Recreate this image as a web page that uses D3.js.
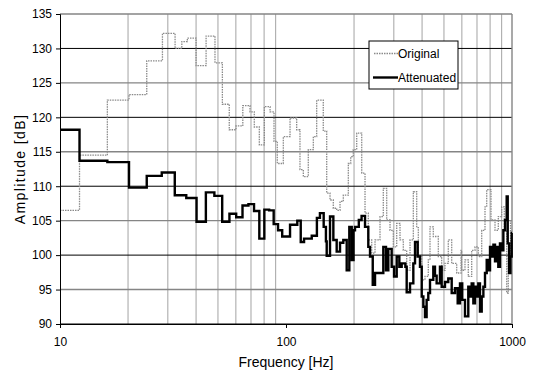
<!DOCTYPE html>
<html>
<head>
<meta charset="utf-8">
<script src="https://cdn.jsdelivr.net/npm/d3@7"></script>
<style>
  body { margin: 0; background: #fff; }
  svg { display: block; font-family: "Liberation Sans", Arial, sans-serif; }
</style>
</head>
<body>
<svg id="chart" width="533" height="372"></svg>
<script>
///////////////////////////////////////////
// Data (start frequency of each step, level in dB)
///////////////////////////////////////////
var origFreq = [10, 12.2, 16.2, 20.2, 24.2, 28.4, 32.3, 34.6, 36.6, 40.0, 44.3, 48.5, 52.3, 56.1, 60.1,
  64.4, 69.3, 72.4, 76.2, 80.2, 85.0, 88.5, 91.5, 97.3, 104.2, 111.5, 115.3, 119.3, 125.5, 132.1,
  136.7, 146.2, 151.4, 156.6, 161.9, 167.6, 173.4, 179.3, 188.7, 193.4, 198.5, 205.5, 216.3, 223.7,
  231.3, 239.5, 247.7, 260.6, 269.5, 279.0, 288.6, 298.4, 308.9, 319.5, 330.4, 342.0, 353.8, 365.9,
  378.7, 385.0, 398.6, 412.1, 426.2, 433.7, 448.5, 472.0, 488.5, 505.2, 522.5, 541.0, 569.3, 595.0,
  598.9, 619.4, 640.6, 663.2, 685.9, 709.4, 734.4, 759.5, 772.9, 807.5, 841.1, 869.8, 900.3, 924.5,
  947.3, 963.0, 985.0];
var origLevel = [106.5, 114.5, 122.5, 123.3, 128.2, 132.2, 130.0, 131.0, 131.5, 127.5, 131.8, 127.9, 121.9, 118.2, 118.75,
  121.7, 120.8, 118.6, 116.0, 121.55, 120.8, 116.5, 113.3, 117.2, 119.9, 118.2, 112.4, 111.4, 115.3, 117.2,
  122.5, 118.0, 109.0, 108.0, 106.8, 106.5, 107.8, 108.7, 113.3, 114.3, 115.3, 117.7, 111.9, 106.1,
  102.2, 100.3, 102.2, 105.6, 109.7, 105.1, 103.6, 101.2, 104.6, 102.2, 100.7, 97.8, 102.2, 109.2,
  104.0, 99.8, 96.4, 96.9, 99.3, 104.1, 102.7, 99.8, 97.8, 98.8, 102.2, 98.8, 97.4, 100.7,
  97.8, 99.3, 96.9, 100.7, 101.2, 99.8, 103.6, 107.0, 109.5, 105.1, 103.6, 105.6, 107.0, 103.6,
  94.5, 99.8, 105.0];

var attFreq = [10, 12.2, 16.2, 20.2, 24.2, 28.2, 32.2, 36.2, 40.2, 44.2, 48.2, 52.2, 56.2, 60.2,
  64.2, 68.2, 72.2, 76.2, 80.2, 84.2, 88.2, 92.2, 96.2, 104.2, 112.2, 116.2, 120.2, 130, 137, 141.3,
  146.8, 150.2, 151.4, 156.6, 162, 167.6, 173.4, 179.3, 185.6, 190.6, 195.4, 199, 202, 210, 216, 223.7,
  231.3, 235.4, 242, 247.7, 269.5, 277, 283.6, 293.5, 300.6, 308.9, 317.3, 325, 337.4, 342, 353.8,
  365.9, 372.3, 382.6, 391.6, 398.6, 405.3, 412.1, 419, 426.2, 433.7, 448.5, 456.2, 464, 480, 488.5,
  505.2, 522.5, 541, 559.6, 575, 588.6, 602.3, 619.4, 640.6, 651.7, 663.2, 674.5, 685.9, 697.8,
  709.4, 721.6, 734.4, 747, 759.5, 772.9, 785.8, 799.4, 813.6, 827.6, 841.1, 855.8, 869.8, 884.5,
  900.3, 915.7, 931.6, 947.3, 957.4, 970.8, 984.3, 997];
var attLevel = [118.2, 113.7, 113.5, 109.8, 111.5, 112.0, 108.7, 108.3, 104.85, 109.1, 108.6, 104.85, 106.0, 105.5,
  107.2, 107.4, 106.4, 102.4, 106.6, 106.5, 104.5, 103.6, 102.7, 104.4, 105.0, 101.9, 102.4, 102.8, 105.4, 106.1,
  104.1, 102.0, 99.9, 105.6, 102.2, 100.5, 101.8, 102.2, 97.8, 104.1, 99.3, 103.6, 104.1, 105.1, 105.7, 104.1,
  101.2, 99.8, 95.7, 97.4, 101.2, 97.8, 100.9, 98.3, 96.9, 99.8, 98.3, 98.8, 98.3, 94.6, 95.9,
  98.8, 101.9, 99.8, 98.3, 94.0, 92.5, 91.0, 93.5, 94.5, 96.4, 98.3, 97.0, 95.9, 98.3, 95.4,
  96.1, 96.6, 94.5, 95.2, 93.0, 95.9, 93.5, 91.1, 95.4, 94.0, 95.9, 93.0, 95.4, 94.0,
  95.9, 91.8, 94.0, 95.4, 97.4, 99.3, 97.8, 101.2, 99.8, 101.5, 99.1, 101.2, 98.3, 101.7,
  100.7, 103.6, 105.1, 108.5, 101.7, 97.4, 99.8, 103.2];

var yTicks = [90, 95, 100, 105, 110, 115, 120, 125, 130, 135];
var xTicks = [10, 100, 1000];
var minorFreqs = [20, 30, 40, 50, 60, 70, 80, 90, 200, 300, 400, 500, 600, 700, 800, 900];

///////////////////////////////////////////
// Chart
///////////////////////////////////////////
var svg = d3.select("#chart");
var mLeft = 60, mRight = 512, mTop = 14, mBottom = 324;

var x = d3.scaleLog().domain([10, 1000]).range([mLeft, mRight]);
var y = d3.scaleLinear().domain([90, 135]).range([mBottom, mTop]);

// vertical minor grid
svg.append("g").selectAll("line")
  .data(minorFreqs)
  .enter().append("line")
  .attr("x1", function(d) { return x(d); })
  .attr("x2", function(d) { return x(d); })
  .attr("y1", mTop).attr("y2", mBottom)
  .attr("stroke", "#a3a3a3").attr("stroke-width", 1);

// horizontal grid: black every 10, grey in between
svg.append("g").selectAll("line")
  .data(yTicks)
  .enter().append("line")
  .attr("x1", mLeft).attr("x2", mRight)
  .attr("y1", function(d) { return y(d); })
  .attr("y2", function(d) { return y(d); })
  .attr("stroke", function(d) { return d % 10 === 0 ? "#000" : "#858585"; })
  .attr("stroke-width", function(d) { return d % 10 === 0 ? 1 : 1.4; });

// right border
svg.append("line")
  .attr("x1", mRight).attr("x2", mRight).attr("y1", mTop).attr("y2", mBottom)
  .attr("stroke", "#858585").attr("stroke-width", 1.4);

function makePoints(fs, vs) {
  var pts = fs.map(function(f, i) { return [f, vs[i]]; });
  pts.push([1000, vs[vs.length - 1]]);
  return pts;
}

var line = d3.line()
  .x(function(d) { return x(d[0]); })
  .y(function(d) { return y(d[1]); })
  .curve(d3.curveStepAfter);

svg.append("path")
  .datum(makePoints(origFreq, origLevel))
  .attr("d", line)
  .attr("fill", "none")
  .attr("stroke", "#8a8a8a")
  .attr("stroke-width", 1.3)
  .attr("stroke-dasharray", "1.5,1");

svg.append("path")
  .datum(makePoints(attFreq, attLevel))
  .attr("d", line)
  .attr("fill", "none")
  .attr("stroke", "#000")
  .attr("stroke-width", 2.4)
  .attr("stroke-linejoin", "miter");

// axes
var yAxis = d3.axisLeft(y).tickValues(yTicks).tickSize(4).tickPadding(4);
var gy = svg.append("g").attr("transform", "translate(" + mLeft + ",0)").call(yAxis);
gy.select(".domain").attr("stroke", "#000");
gy.selectAll("text").attr("font-size", 12).attr("fill", "#000").style("font-family", "Liberation Sans, Arial, sans-serif");

var xAxis = d3.axisBottom(x).tickValues(xTicks).tickFormat(d3.format("d")).tickSize(4).tickPadding(9);
var gx = svg.append("g").attr("transform", "translate(0," + mBottom + ")").call(xAxis);
gx.select(".domain").attr("stroke", "#000");
gx.selectAll("text").attr("font-size", 12).attr("fill", "#000").style("font-family", "Liberation Sans, Arial, sans-serif");

// axis titles
svg.append("text")
  .attr("x", 286).attr("y", 367)
  .attr("text-anchor", "middle")
  .attr("font-size", 14)
  .text("Frequency [Hz]");

svg.append("text")
  .attr("transform", "translate(25,169) rotate(-90)")
  .attr("text-anchor", "middle")
  .attr("font-size", 14)
  .attr("letter-spacing", 1.4)
  .text("Amplitude [dB]");

// legend
var lg = svg.append("g").attr("transform", "translate(369,41)");
lg.append("rect").attr("width", 89).attr("height", 48)
  .attr("fill", "#fff").attr("stroke", "#000").attr("stroke-width", 1);
lg.append("line").attr("x1", 5).attr("x2", 29).attr("y1", 12.5).attr("y2", 12.5)
  .attr("stroke", "#8a8a8a").attr("stroke-width", 1.3).attr("stroke-dasharray", "1.5,1");
lg.append("text").attr("x", 29).attr("y", 17).attr("font-size", 12).text("Original");
lg.append("line").attr("x1", 4).attr("x2", 29).attr("y1", 36.5).attr("y2", 36.5)
  .attr("stroke", "#000").attr("stroke-width", 2.4);
lg.append("text").attr("x", 29).attr("y", 41).attr("font-size", 12).text("Attenuated");
</script>
</body>
</html>
